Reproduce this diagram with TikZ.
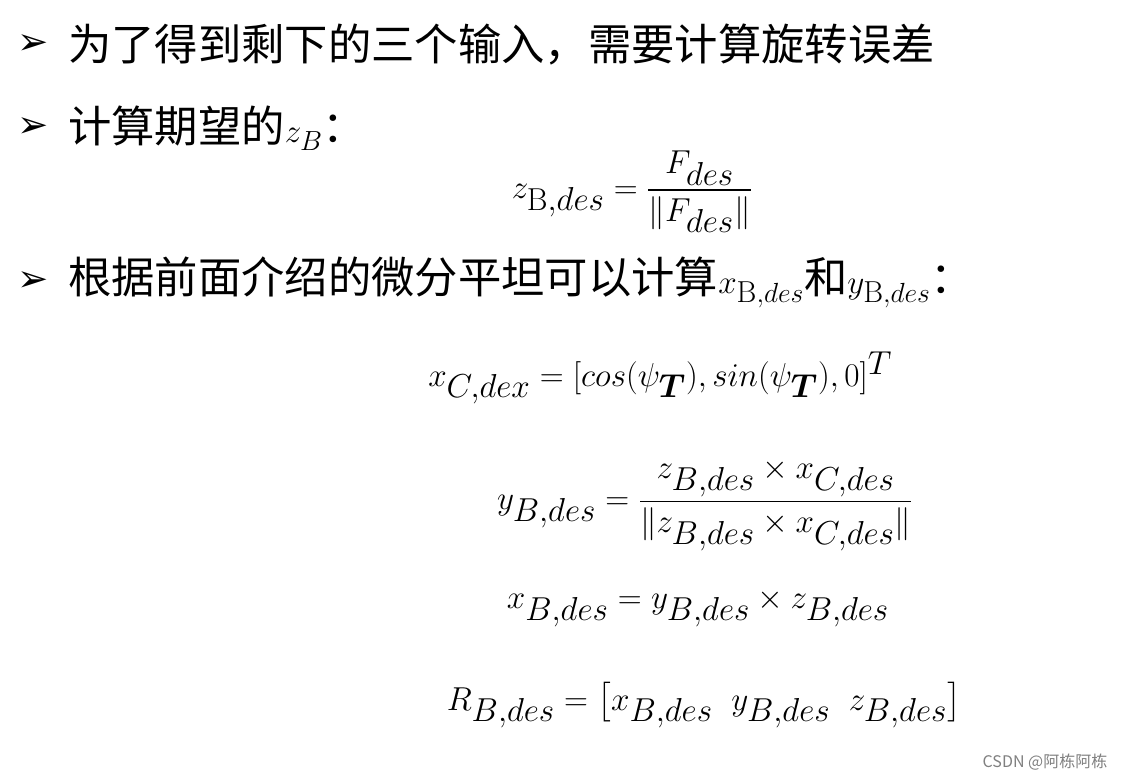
\documentclass[tikz,border=0pt]{standalone}
\usepackage{amsmath}
\usepackage{fontspec}
\newfontfamily\cjk{Noto Sans CJK SC}
\newfontfamily\dv{DejaVu Sans}
\begin{document}
\begin{tikzpicture}[x=0.75pt,y=-0.75pt,
  txt/.style={anchor=west,inner sep=0pt,font=\fontsize{32.5}{38}\selectfont\cjk},
  bul/.style={inner sep=0pt,font=\fontsize{28}{32}\selectfont\dv},
  eq/.style={inner sep=0pt,font=\fontsize{34}{40}\selectfont}]
\useasboundingbox[fill=white] (0,0) rectangle (1129,779);
\node[bul] (b1) at (33,45) {➢};
\node[txt] (t1) at (68,45) {为了得到剩下的三个输入，需要计算旋转误差};
\node[bul] (b2) at (33,128) {➢};
\node[txt] (t2) at (68,128) {计算期望的$z_B$：};
\node[eq] (e1) at (632,192) {$z_{\mathrm{B},des}=\dfrac{F_{des}}{\|F_{des}\|}$};
\node[bul] (b3) at (33,282) {➢};
\node[txt] (t3) at (68,282) {根据前面介绍的微分平坦可以计算$x_{\mathrm{B},des}$和$y_{\mathrm{B},des}$：};
\node[eq,anchor=west] (e2) at (428,378) {$x_{C,dex}=[cos(\psi_{\boldsymbol{T}}),sin(\psi_{\boldsymbol{T}}),0]^T$};
\node[eq] (e3) at (705,505) {$y_{B,des}=\dfrac{z_{B,des}\times x_{C,des}}{\|z_{B,des}\times x_{C,des}\|}$};
\node[eq] (e4) at (698,608) {$x_{B,des}=y_{B,des}\times z_{B,des}$};
\node[eq] (e5) at (704,705) {$R_{B,des}=\bigl[x_{B,des}\;\;y_{B,des}\;\;z_{B,des}\bigr]$};
\node[inner sep=0pt,text=gray,font=\fontsize{12}{14}\selectfont\cjk] (w) at (1045,762) {CSDN @阿栋阿栋};
\end{tikzpicture}
\end{document}
